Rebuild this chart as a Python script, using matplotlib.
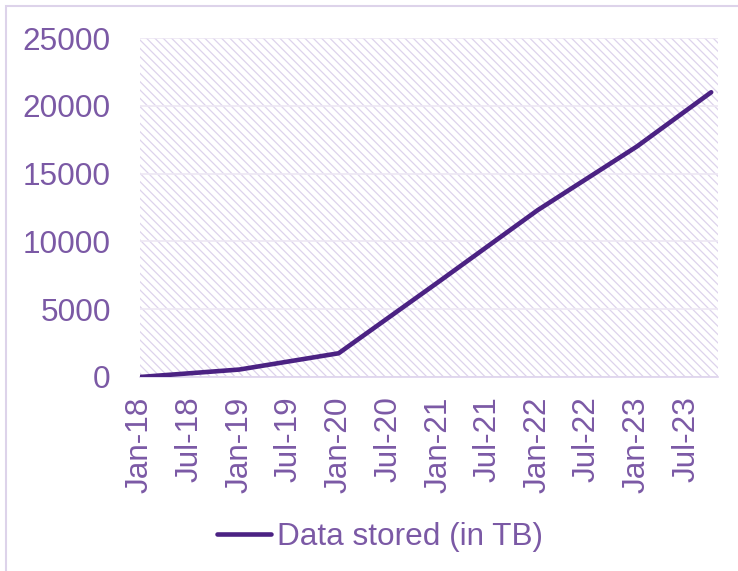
import pandas as pd
import matplotlib.pyplot as plt
import matplotlib.dates as mdates
from matplotlib.patches import Rectangle

# data
dates = ['2018-01-01', '2019-01-01', '2020-01-01', '2021-01-01',
         '2022-01-01', '2023-01-01', '2023-10-01']
stored_tb = [0, 550, 1750, 7000, 12300, 17000, 21000]
label = 'Data stored (in TB)'

text_col = '#7B59A5'
line_col = '#4B2283'
hatch_col = '#DDD3EC'
grid_col = '#EDE7F4'

plt.rcParams['font.family'] = ['Liberation Sans', 'DejaVu Sans']
plt.rcParams['hatch.linewidth'] = 0.9

fig = plt.figure(figsize=(7.38, 5.71), dpi=100)
ax = fig.add_axes([140 / 738, 1 - 377 / 571, 578 / 738, 339 / 571])

x = pd.to_datetime(dates)

# hatched plot area
ax.add_patch(Rectangle((0, 0), 1, 1, transform=ax.transAxes, facecolor='white',
                       edgecolor=hatch_col, hatch='\\\\\\\\', lw=0, zorder=0))

ax.plot(x, stored_tb, color=line_col, lw=3.3, solid_capstyle='round',
        solid_joinstyle='round', label=label, zorder=3)

ax.set_ylim(0, 25000)
ax.set_yticks(range(0, 25001, 5000))
ax.set_xlim(pd.Timestamp('2018-01-01'), pd.Timestamp('2023-10-26'))
ax.xaxis.set_major_locator(mdates.MonthLocator(bymonth=[1, 7]))
ax.xaxis.set_major_formatter(mdates.DateFormatter('%b-%y'))

ax.grid(axis='y', color=grid_col, lw=1.2, zorder=1)
ax.set_axisbelow(True)
for s in ['top', 'right', 'left']:
    ax.spines[s].set_visible(False)
ax.spines['bottom'].set_color(hatch_col)
ax.spines['bottom'].set_linewidth(1.2)

ax.tick_params(axis='both', length=0, colors=text_col, labelsize=22.7)
ax.tick_params(axis='y', pad=21)
ax.tick_params(axis='x', pad=14, labelrotation=90)

fig.legend(loc='center', bbox_to_anchor=(380 / 738, 1 - 537 / 571), frameon=False,
           fontsize=22.7, labelcolor=text_col, handlelength=1.7, handletextpad=0.2)

# outer chart border
fig.patches.append(Rectangle((6 / 738, -0.01), 1.0, 1 - 6 / 571 + 0.01,
                             transform=fig.transFigure, fill=False,
                             edgecolor='#DDD3EA', lw=1.5))

fig.savefig('out.png', dpi=100)
